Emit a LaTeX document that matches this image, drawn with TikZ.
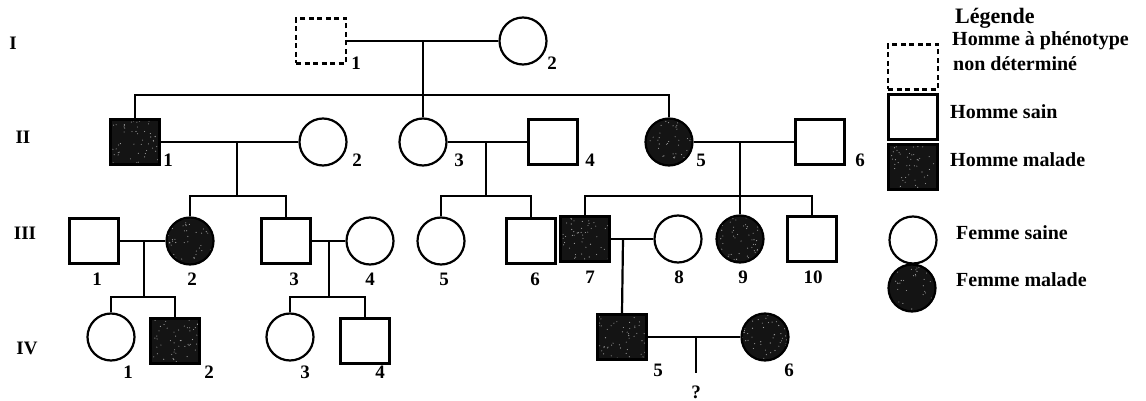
\documentclass[tikz,border=0pt]{standalone}
\usepackage{fontspec}
\setmainfont{Liberation Serif}
\begin{document}
\begin{tikzpicture}[x=1pt,y=-1pt,
  conn/.style={line width=2.2pt},
  sq/.style={draw,line width=2.2pt,rectangle,minimum width=49pt,minimum height=45pt,inner sep=0pt},
  ci/.style={draw,line width=2.2pt,circle,minimum size=47pt,inner sep=0pt},
  aff/.style={fill=black!92,path picture={
      \foreach \k in {1,...,55}{
        \fill[black!35] ([shift={(rand*24pt,rand*24pt)}]path picture bounding box.center) circle (0.55pt);
      }}},
  unk/.style={draw,dash pattern=on 5pt off 3.5pt,line width=2.2pt,rectangle,minimum width=50pt,minimum height=45pt,inner sep=0pt},
  num/.style={font=\bfseries\fontsize{19}{19}\selectfont,inner sep=0pt},
  leg/.style={font=\bfseries\fontsize{20}{22}\selectfont,anchor=west,inner sep=0pt,align=left}]
\pgfmathsetseed{4242}
\useasboundingbox (0,0) rectangle (1146,401);
% generation I
\node[unk] (I1) at (321,41) {};
\node[ci] (I2) at (523,41) {};
% generation II
\node[sq,aff] (II1) at (135,142) {};
\node[ci] (II2) at (323,142) {};
\node[ci] (II3) at (423,142) {};
\node[sq] (II4) at (553,142) {};
\node[ci,aff] (II5) at (669,142) {};
\node[sq] (II6) at (820,142) {};
% generation III
\node[sq] (III1) at (94,241) {};
\node[ci,aff] (III2) at (190,241) {};
\node[sq] (III3) at (286,241) {};
\node[ci] (III4) at (370,241) {};
\node[ci] (III5) at (441,241) {};
\node[sq] (III6) at (531,241) {};
\node[sq,aff] (III7) at (585,239) {};
\node[ci] (III8) at (678,239) {};
\node[ci,aff] (III9) at (740,239) {};
\node[sq] (III10) at (812,239) {};
% generation IV
\node[ci] (IV1) at (111,337) {};
\node[sq,aff] (IV2) at (175,341) {};
\node[ci] (IV3) at (290,337) {};
\node[sq] (IV4) at (365,341) {};
\node[sq,aff] (IV5) at (622,337) {};
\node[ci,aff] (IV6) at (765,337) {};
% junction coordinates
\coordinate (mI) at (423,41);
\coordinate (sII) at (423,95);
\coordinate (mIIa) at (237,142);
\coordinate (sIIIa) at (237,196);
\coordinate (mIIb) at (486,142);
\coordinate (sIIIb) at (486,196);
\coordinate (mIIc) at (740,142);
\coordinate (sIIIc) at (740,196);
\coordinate (mIIIa) at (144,241);
\coordinate (sIVa) at (144,297);
\coordinate (mIIIb) at (329,241);
\coordinate (sIVb) at (329,297);
\coordinate (mIIIc) at (623,239);
\coordinate (mIV) at (696,337);
\coordinate (qIV) at (696,373);
% connectors
\draw[conn] (I1.east) -- (I2.west);
\draw[conn] (mI) -- (II3.north);
\draw[conn] (II1.north) -- (II1.north |- sII) -- (II5.north |- sII) -- (II5.north);
\draw[conn] (II1.east) -- (II2.west);
\draw[conn] (mIIa) -- (sIIIa);
\draw[conn] (III2.north) -- (III2.north |- sIIIa) -- (III3.north |- sIIIa) -- (III3.north);
\draw[conn] (II3.east) -- (II4.west);
\draw[conn] (mIIb) -- (sIIIb);
\draw[conn] (III5.north) -- (III5.north |- sIIIb) -- (III6.north |- sIIIb) -- (III6.north);
\draw[conn] (II5.east) -- (II6.west);
\draw[conn] (mIIc) -- (III9.north);
\draw[conn] (III7.north) -- (III7.north |- sIIIc) -- (III10.north |- sIIIc) -- (III10.north);
\draw[conn] (III1.east) -- (III2.west);
\draw[conn] (mIIIa) -- (sIVa);
\draw[conn] (IV1.north) -- (IV1.north |- sIVa) -- (IV2.north |- sIVa) -- (IV2.north);
\draw[conn] (III3.east) -- (III4.west);
\draw[conn] (mIIIb) -- (sIVb);
\draw[conn] (IV3.north) -- (IV3.north |- sIVb) -- (IV4.north |- sIVb) -- (IV4.north);
\draw[conn] (III7.east) -- (III8.west);
\draw[conn] (mIIIc) -- (IV5.north);
\draw[conn] (IV5.east) -- (IV6.west);
\draw[conn] (mIV) -- (qIV);
% generation labels
\node[num] (gI) at (13,43) {I};
\node[num] (gII) at (23,137) {II};
\node[num] (gIII) at (25,233) {III};
\node[num] (gIV) at (27,348) {IV};
% individual numbers
\node[num] (nI1) at (356,63) {1};
\node[num] (nI2) at (552,63) {2};
\node[num] (nII1) at (168,160) {1};
\node[num] (nII2) at (357,160) {2};
\node[num] (nII3) at (459,160) {3};
\node[num] (nII4) at (590,160) {4};
\node[num] (nII5) at (701,160) {5};
\node[num] (nII6) at (860,160) {6};
\node[num] (nIII1) at (97,279) {1};
\node[num] (nIII2) at (192,279) {2};
\node[num] (nIII3) at (294,279) {3};
\node[num] (nIII4) at (370,279) {4};
\node[num] (nIII5) at (444,279) {5};
\node[num] (nIII6) at (535,279) {6};
\node[num] (nIII7) at (590,277) {7};
\node[num] (nIII8) at (679,277) {8};
\node[num] (nIII9) at (743,277) {9};
\node[num] (nIII10) at (813,277) {10};
\node[num] (nIV1) at (128,372) {1};
\node[num] (nIV2) at (209,372) {2};
\node[num] (nIV3) at (305,372) {3};
\node[num] (nIV4) at (380,372) {4};
\node[num] (nIV5) at (658,370) {5};
\node[num] (nIV6) at (789,370) {6};
\node[num] (q) at (696,392) {?};
% legend
\node[leg,font=\bfseries\fontsize{22}{24}\selectfont] (lt) at (955,18) {Légende};
\node[unk] (l1) at (913,67) {};
\node[leg] (t1) at (952,41) {Homme à phénotype};
\node[leg] (t1b) at (953,64) {non déterminé};
\node[sq] (l2) at (913,117) {};
\node[leg] (t2) at (950,112) {Homme sain};
\node[sq,aff] (l3) at (913,167) {};
\node[leg] (t3) at (950,160) {Homme malade};
\node[ci] (l4) at (913,240) {};
\node[leg] (t4) at (956,233) {Femme saine};
\node[ci,aff] (l5) at (912,288) {};
\node[leg] (t5) at (956,280) {Femme malade};
\end{tikzpicture}
\end{document}
